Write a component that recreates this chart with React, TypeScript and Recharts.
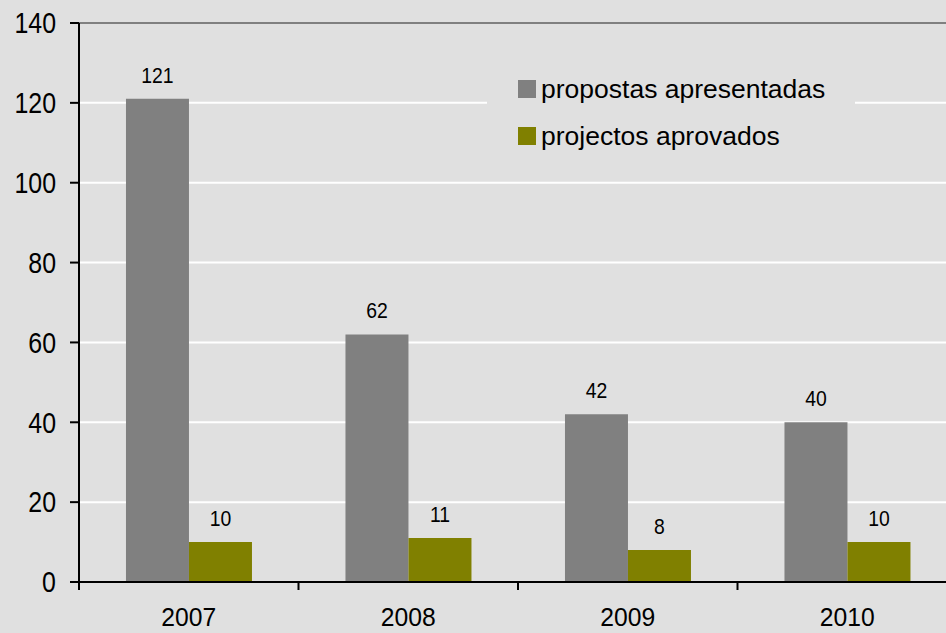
import React from 'react';
import { BarChart, Bar, XAxis, YAxis, CartesianGrid, ReferenceLine, LabelList, Legend } from 'recharts';

const years = ['2007', '2008', '2009', '2010'];
const propostas = [121, 62, 42, 40];
const projectos = [10, 11, 8, 10];
const yTicks = [0, 20, 40, 60, 80, 100, 120, 140];
const seriesOrder = ['propostas apresentadas', 'projectos aprovados'];

const data = years.map((y, i) => ({ year: y, propostas: propostas[i], projectos: projectos[i] }));

const FONT = '"Liberation Sans", Arial, sans-serif';

const YTick = (props: any) => {
  const { x, y, payload } = props;
  return (
    <g transform={`translate(${x},${y}) scale(0.86,1)`}>
      <text x={0} y={0} dy="0.355em" textAnchor="end" fontSize={29} fill="#000" fontFamily={FONT}>
        {payload.value}
      </text>
    </g>
  );
};

const XTick = (props: any) => {
  const { x, y, payload } = props;
  const half = payload && typeof payload.offset === 'number' && payload.offset > 0 ? payload.offset : 109.75;
  return (
    <g>
      <line x1={x - half} x2={x - half} y1={y} y2={y + 8} stroke="#000" strokeWidth={2} />
      <g transform={`translate(${x},${y + 44}) scale(0.95,1)`}>
        <text x={0} y={0} textAnchor="middle" fontSize={26} fill="#000" fontFamily={FONT}>
          {payload.value}
        </text>
      </g>
    </g>
  );
};

const BarLabel = (props: any) => {
  const { x, y, width, value } = props;
  return (
    <g transform={`translate(${x + width / 2},${y - 16}) scale(0.88,1)`}>
      <text x={0} y={0} textAnchor="middle" fontSize={22} fill="#000" fontFamily={FONT}>
        {value}
      </text>
    </g>
  );
};

const LegendContent = (props: any) => {
  const payload = [...(props.payload || [])].sort(
    (a: any, b: any) => seriesOrder.indexOf(a.value) - seriesOrder.indexOf(b.value)
  );
  return (
    <div style={{ position: 'relative', width: 368, height: 100, background: '#e0e0e0', fontFamily: FONT }}>
      {payload.map((p: any, i: number) => (
        <div key={i} style={{ position: 'absolute', left: 31, top: 17 + i * 47, height: 18, display: 'flex', alignItems: 'center', whiteSpace: 'nowrap' }}>
          <div style={{ width: 18, height: 18, background: p.color }} />
          <span style={{ marginLeft: 5, fontSize: 26.5, color: '#000', lineHeight: '18px' }}>{p.value}</span>
        </div>
      ))}
    </div>
  );
};

export default function App() {
  return (
    <div style={{ position: 'absolute', left: 0, top: 0, width: 946, height: 633, overflow: 'hidden', background: '#e0e0e0' }}>
      <BarChart
        width={957}
        height={633}
        data={data}
        margin={{ top: 23, right: 0, bottom: 0, left: 0 }}
        barCategoryGap="21.4%"
        barGap={0}
      >
        <CartesianGrid vertical={false} stroke="#ffffff" strokeWidth={2} />
        <ReferenceLine y={140} stroke="#808080" strokeWidth={2} />
        <YAxis
          width={79}
          domain={[0, 140]}
          ticks={yTicks}
          interval={0}
          tickSize={9}
          tickMargin={14}
          axisLine={{ stroke: '#000', strokeWidth: 2 }}
          tickLine={{ stroke: '#000', strokeWidth: 2 }}
          tick={<YTick />}
        />
        <XAxis
          dataKey="year"
          height={51}
          tickSize={0}
          tickMargin={0}
          tickLine={false}
          axisLine={{ stroke: '#000', strokeWidth: 2 }}
          tick={<XTick />}
          interval={0}
        />
        <Legend
          layout="vertical"
          align="center"
          verticalAlign="middle"
          wrapperStyle={{ position: 'absolute', left: 487, top: 63, width: 368, height: 100 }}
          content={<LegendContent />}
        />
        <Bar dataKey="propostas" name="propostas apresentadas" fill="#808080" isAnimationActive={false}>
          <LabelList dataKey="propostas" content={<BarLabel />} />
        </Bar>
        <Bar dataKey="projectos" name="projectos aprovados" fill="#808000" isAnimationActive={false}>
          <LabelList dataKey="projectos" content={<BarLabel />} />
        </Bar>
      </BarChart>
    </div>
  );
}
